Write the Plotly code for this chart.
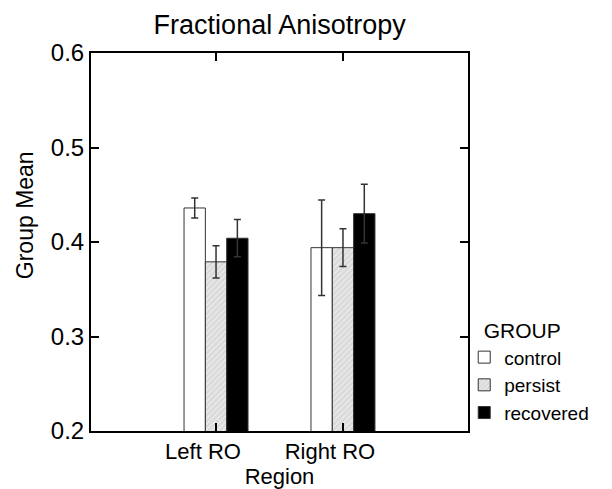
import plotly.graph_objects as go

regions = ["Left RO", "Right RO"]
groups = ["control", "persist", "recovered"]
means = {
    "control": [0.436, 0.394],
    "persist": [0.379, 0.394],
    "recovered": [0.404, 0.430],
}
errors = {
    "control": [0.0106, 0.0505],
    "persist": [0.017, 0.020],
    "recovered": [0.0197, 0.031],
}

styles = {
    "control": dict(color="white"),
    "persist": dict(color="#d9d9d9", pattern=dict(shape="/", bgcolor="#d9d9d9", fgcolor="white", size=4, solidity=0.35)),
    "recovered": dict(color="black"),
}

fig = go.Figure()
for g in groups:
    fig.add_trace(go.Bar(
        x=regions, y=means[g], name=g,
        marker=dict(**styles[g], line=dict(color="#333333", width=1)),
        error_y=dict(type="data", array=errors[g], visible=True, color="#333333", thickness=1.5, width=3.5),
    ))

font = "Liberation Sans, Arial, sans-serif"
fig.update_layout(
    width=612, height=489,
    margin=dict(l=91, r=144, t=53, b=58, autoexpand=False),
    paper_bgcolor="white", plot_bgcolor="white",
    barmode="group", bargap=0.496, bargroupgap=0,
    font=dict(family=font, color="black", size=21),
    title=dict(text="Fractional Anisotropy", x=0.457, xanchor="center", y=0.95, yanchor="middle",
               font=dict(size=27, family=font, color="black")),
    legend=dict(title=dict(text="\u00a0\u00a0\u00a0GROUP", font=dict(size=21)), x=0.99, xanchor="left",
                y=0.3175, yanchor="top",
                font=dict(size=19), tracegroupgap=0, itemwidth=30, bgcolor="rgba(0,0,0,0)"),
    showlegend=True,
    annotations=[dict(text="Group Mean", xref="paper", yref="paper", x=-0.175, y=0.571,
                      xanchor="center", yanchor="middle", textangle=-90, showarrow=False,
                      font=dict(size=23, family=font, color="black"))],
)
fig.update_xaxes(
    range=[-0.985, 1.985], showline=True, linecolor="black", linewidth=2, mirror="ticks",
    ticks="inside", ticklen=8, tickcolor="black", tickwidth=1.5, automargin=False,
    title=dict(text="Region", font=dict(size=22), standoff=6),
    tickfont=dict(size=22), ticklabelshift=-13, showgrid=False,
)
fig.update_yaxes(
    range=[0.2, 0.6], dtick=0.1, tickformat=".1f", showline=True, linecolor="black", linewidth=2, mirror="ticks",
    ticks="inside", ticklen=8, tickcolor="black", tickwidth=1.5, automargin=False,
    tickfont=dict(size=24), showgrid=False, zeroline=False,
)
fig.write_html("out.html")
